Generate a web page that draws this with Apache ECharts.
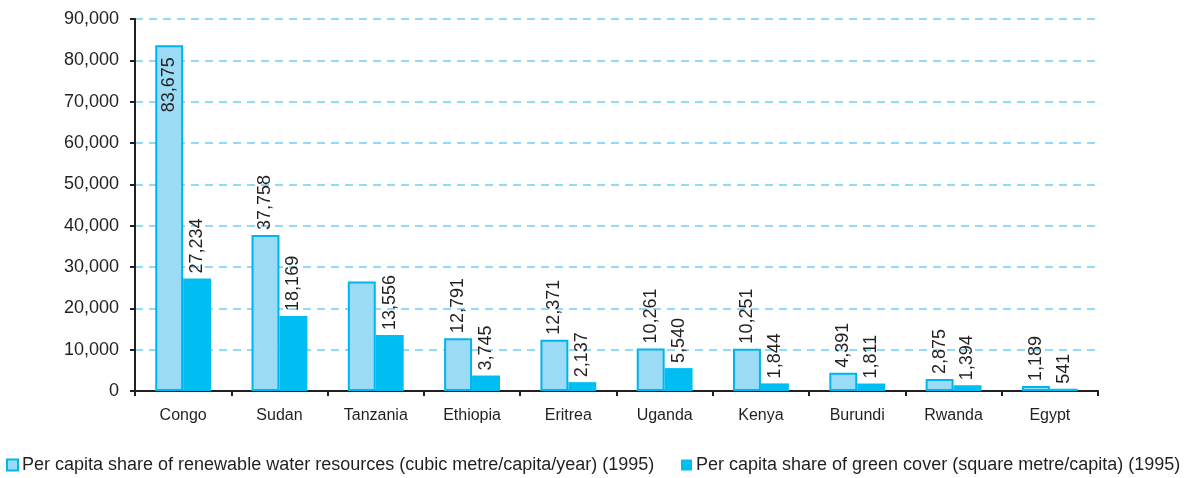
<!DOCTYPE html>
<html>
<head>
<meta charset="utf-8">
<script src="https://cdn.jsdelivr.net/npm/echarts@6/dist/echarts.min.js"></script>
<style>
  html, body { margin: 0; padding: 0; background: #fff; }
  #chart { width: 1185px; height: 478px; }
</style>
</head>
<body>
<div id="chart"></div>
<script>
const countries = ['Congo', 'Sudan', 'Tanzania', 'Ethiopia', 'Eritrea', 'Uganda', 'Kenya', 'Burundi', 'Rwanda', 'Egypt']
const waterValues = [83675, 37758, 26500, 12791, 12371, 10261, 10251, 4391, 2875, 1189]
const waterLabels = ['83,675', '37,758', '', '12,791', '12,371', '10,261', '10,251', '4,391', '2,875', '1,189']
const greenValues = [27234, 18169, 13556, 3745, 2137, 5540, 1844, 1811, 1394, 541]
const waterName = 'Per capita share of renewable water resources (cubic metre/capita/year) (1995)'
const greenName = 'Per capita share of green cover (square metre/capita) (1995)'

const ink = '#231F20'
const font = 'Liberation Sans, Arial, sans-serif'
const chart = echarts.init(document.getElementById('chart'))

const labelTop = {
  show: true,
  position: 'top',
  rotate: 90,
  align: 'left',
  verticalAlign: 'middle',
  distance: 5,
  color: ink,
  fontSize: 18,
  fontFamily: font,
  formatter: p => p.value.toLocaleString('en-US'),
}

const waterData = waterValues.map((v, i) => {
  if (i === 0) {
    return {
      value: v,
      label: {
        show: true,
        position: 'insideTop',
        rotate: 90,
        align: 'right',
        verticalAlign: 'middle',
        distance: 12,
        formatter: waterLabels[i],
        color: ink,
        fontSize: 18,
        fontFamily: font,
      },
    }
  }
  return { value: v, label: Object.assign({}, labelTop, { formatter: waterLabels[i] }) }
})

const legendBase = {
  top: 456,
  padding: 0,
  icon: 'rect',
  itemWidth: 11,
  itemHeight: 11,
  itemGap: 5,
  textStyle: { color: ink, fontSize: 18, fontFamily: font, padding: [0, 0, 0, -1] },
}

chart.setOption({
  animation: false,
  grid: { left: 135, right: 87, top: 19, bottom: 87 },
  legend: [
    Object.assign({}, legendBase, { left: 6, data: [waterName] }),
    Object.assign({}, legendBase, { left: 681, data: [greenName] }),
  ],
  xAxis: {
    type: 'category',
    data: countries,
    axisLine: { lineStyle: { color: ink, width: 2 } },
    axisTick: { show: true, length: 5, lineStyle: { color: ink, width: 2 } },
    axisLabel: { color: ink, fontSize: 16, fontFamily: font, margin: 17 },
  },
  yAxis: {
    type: 'value',
    min: 0,
    max: 90000,
    interval: 10000,
    axisLine: { show: true, lineStyle: { color: ink, width: 2 } },
    axisTick: { show: true, length: 5, lineStyle: { color: ink, width: 2 } },
    axisLabel: {
      color: ink, fontSize: 18, fontFamily: font, margin: 16,
      formatter: v => v.toLocaleString('en-US'),
    },
    splitLine: { lineStyle: { color: '#6DCFF6', type: [8, 6], width: 1.5 } },
  },
  series: [
    {
      name: waterName,
      type: 'bar',
      data: waterData,
      barGap: '0%',
      barCategoryGap: '42%',
      itemStyle: { color: '#9BDBF5', borderColor: '#00B5EF', borderWidth: 2 },
    },
    {
      name: greenName,
      type: 'bar',
      data: greenValues,
      itemStyle: { color: '#00BDF2' },
      label: labelTop,
    },
  ],
})
</script>
</body>
</html>
